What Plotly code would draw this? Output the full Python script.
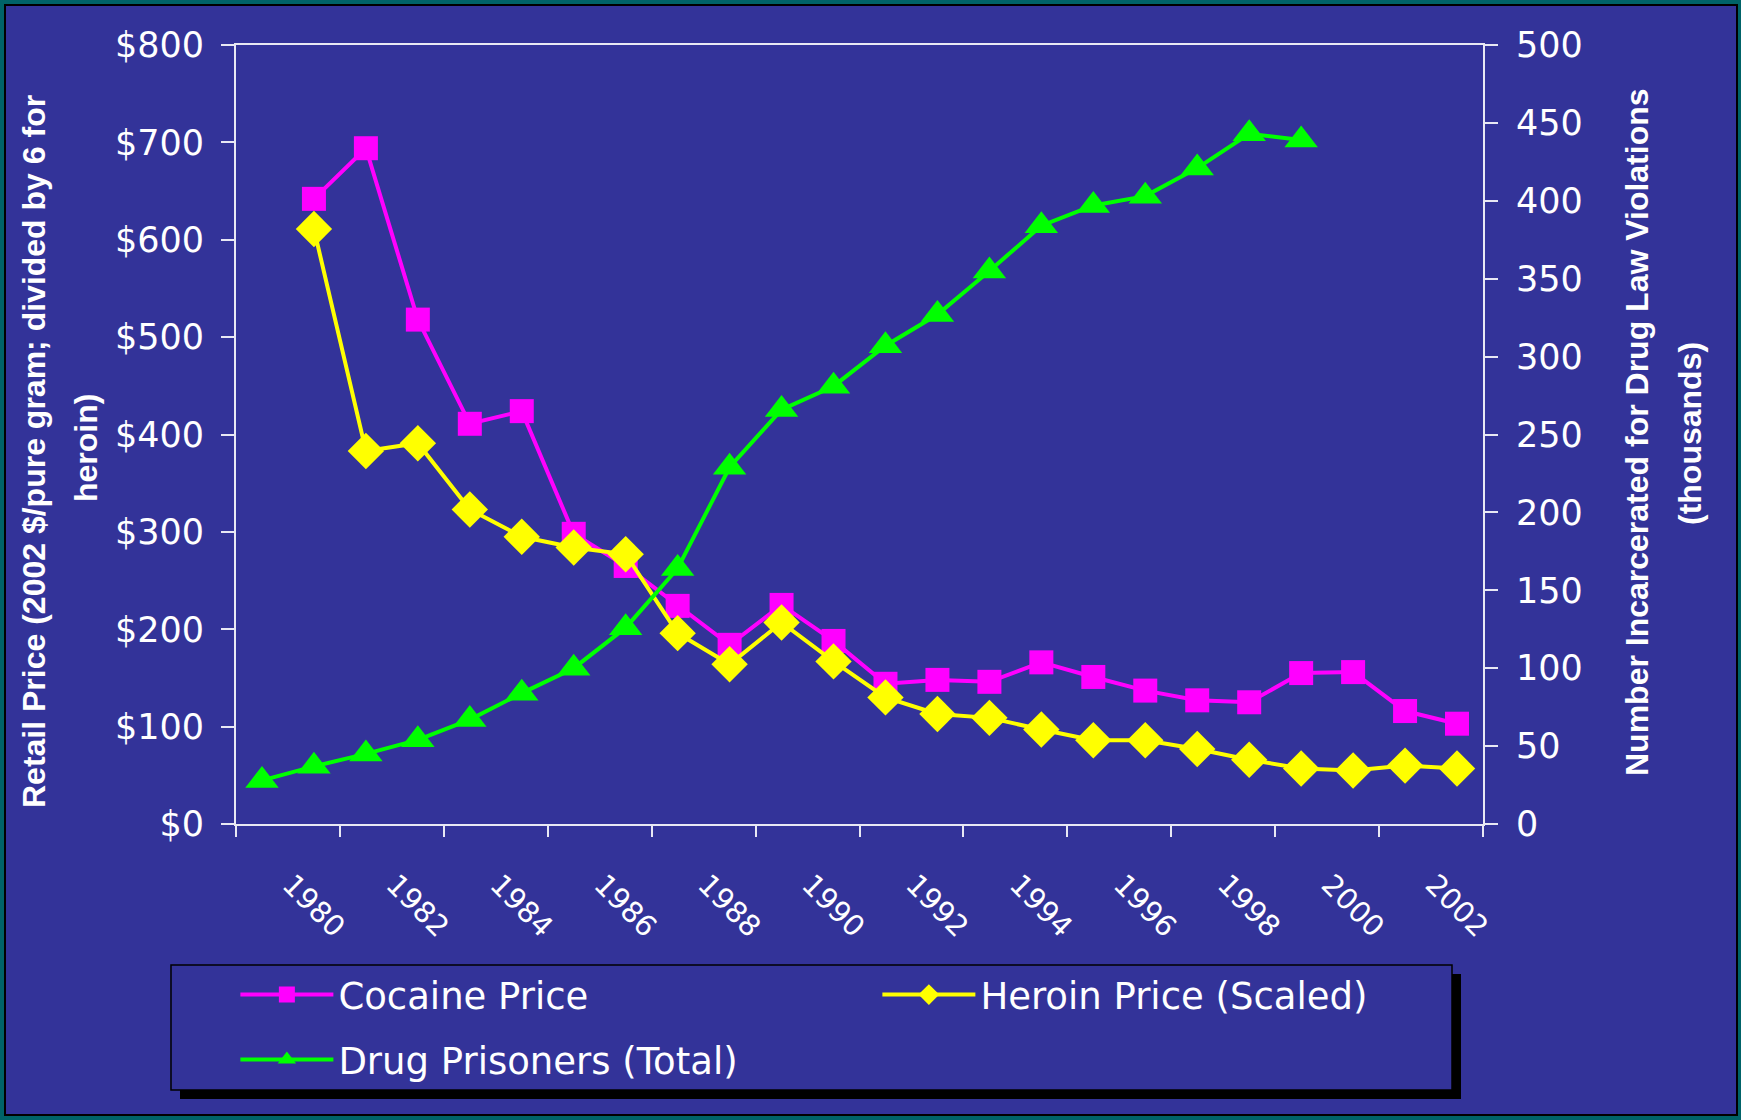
import plotly.graph_objects as go

# ---------------- data ----------------
cocaine_years = list(range(1980, 2003))
cocaine_price = [642, 694, 518, 411, 424, 298, 265, 224, 184, 225, 188, 144,
                 148, 146, 166, 151, 137, 127, 125, 155, 156, 116, 103]

heroin_years = list(range(1980, 2003))
heroin_price = [611, 383, 391, 323, 295, 284, 277, 196, 164, 207, 167, 130,
                113, 109, 97, 86, 86, 77, 66, 57, 55, 60, 57]

prisoner_years = list(range(1979, 2000))
drug_prisoners = [28, 37, 45, 54, 67, 84, 100, 126, 164, 229, 266, 281, 307,
                  327, 355, 384, 397, 403, 421, 443, 439]

label_years = list(range(1980, 2003, 2))
tick_labels = [str(y) for y in label_years]

# ---------------- style ----------------
BG = "#333399"
FRAME = "#006368"
AX = "#e8e8f4"
FONT = "Liberation Sans, Arial, sans-serif"
TFONT = "DejaVu Sans, Liberation Sans, sans-serif"

fig = go.Figure()
fig.add_trace(go.Scatter(
    x=cocaine_years, y=cocaine_price, name="Cocaine Price", mode="lines+markers",
    line=dict(color="#ff00ff", width=4),
    marker=dict(symbol="square", size=24, color="#ff00ff"), yaxis="y",
    legend="legend"))
fig.add_trace(go.Scatter(
    x=heroin_years, y=heroin_price, name="Heroin Price (Scaled)", mode="lines+markers",
    line=dict(color="#ffff00", width=4),
    marker=dict(symbol="diamond", size=28, color="#ffff00"), yaxis="y",
    legend="legend"))
fig.add_trace(go.Scatter(
    x=prisoner_years, y=drug_prisoners, name="Drug Prisoners (Total)", mode="lines+markers",
    line=dict(color="#00ff00", width=4),
    marker=dict(symbol="triangle-up", size=29, color="#00ff00"), yaxis="y2",
    legend="legend2"))

xrange = [1978.5, 2002.5]


def px_x(p):
    return (p - 236) / 1247


def px_y(p):
    return (824 - p) / 779


legend_common = dict(
    orientation="h", x=-0.0005, xanchor="left", yanchor="middle",
    bgcolor="rgba(0,0,0,0)", borderwidth=0,
    font=dict(size=37, color="white", family=TFONT),
    itemwidth=93, entrywidth=534, entrywidthmode="pixels", traceorder="normal",
)

fig.update_layout(
    width=1741, height=1120, autosize=False,
    margin=dict(l=236, r=258, t=45, b=296),
    paper_bgcolor=FRAME, plot_bgcolor="rgba(0,0,0,0)",
    font=dict(family=FONT, color="white"),
    showlegend=True,
    xaxis=dict(
        range=xrange, tickmode="array", tickvals=label_years, ticktext=tick_labels,
        ticks="", tickangle=45, tickfont=dict(size=29, color="white", family=TFONT),
        ticklabelshift=-23, ticklabelstandoff=30,
        showline=True, linecolor=AX, linewidth=2, mirror=True,
        showgrid=False, zeroline=False,
        minor=dict(ticks="outside", tick0=1978.5, dtick=2, ticklen=11,
                   tickwidth=2, tickcolor=AX, showgrid=False),
    ),
    xaxis2=dict(
        range=xrange, overlaying="x", anchor="y", side="bottom",
        showticklabels=False, ticks="", showline=False, showgrid=False, zeroline=False,
        minor=dict(ticks="inside", tick0=1978.5, dtick=2, ticklen=11,
                   tickwidth=2, tickcolor=AX, showgrid=False),
    ),
    yaxis=dict(
        range=[0, 800], tickmode="linear", tick0=0, dtick=100, tickprefix="$",
        ticks="outside", ticklen=13, tickwidth=2, tickcolor=AX,
        tickfont=dict(size=35, color="white", family=TFONT), ticklabelstandoff=10,
        showline=True, linecolor=AX, linewidth=2, showgrid=False, zeroline=False,
    ),
    yaxis2=dict(
        range=[0, 500], tickmode="linear", tick0=0, dtick=50,
        overlaying="y", side="right", anchor="x",
        ticks="outside", ticklen=13, tickwidth=2, tickcolor=AX,
        tickfont=dict(size=35, color="white", family=TFONT), ticklabelstandoff=11,
        showline=True, linecolor=AX, linewidth=2, showgrid=False, zeroline=False,
    ),
    yaxis3=dict(
        range=[0, 800], tickmode="linear", tick0=0, dtick=100,
        overlaying="y", side="left", anchor="x",
        ticks="inside", ticklen=13, tickwidth=2, tickcolor=AX,
        showticklabels=False, showline=False, showgrid=False, zeroline=False,
    ),
    yaxis4=dict(
        range=[0, 500], tickmode="linear", tick0=0, dtick=50,
        overlaying="y", side="right", anchor="x",
        ticks="inside", ticklen=13, tickwidth=2, tickcolor=AX,
        showticklabels=False, showline=False, showgrid=False, zeroline=False,
    ),
    legend=dict(legend_common, y=px_y(995)),
    legend2=dict(legend_common, y=px_y(1060)),
)

# frame, legend shadow and legend box (paper coordinates)
shapes = [
    dict(type="rect", xref="paper", yref="paper", layer="below",
         x0=px_x(5), x1=px_x(1737), y0=px_y(1115), y1=px_y(5),
         fillcolor=BG, line=dict(color="black", width=2)),
    dict(type="rect", xref="paper", yref="paper", layer="below",
         x0=px_x(180), x1=px_x(1461), y0=px_y(1099), y1=px_y(974),
         fillcolor="black", line=dict(width=0)),
    dict(type="rect", xref="paper", yref="paper", layer="below",
         x0=px_x(171), x1=px_x(1452), y0=px_y(1090), y1=px_y(965),
         fillcolor=BG, line=dict(color="black", width=1.5)),
]
fig.update_layout(shapes=shapes)

title_font = dict(family=FONT, size=32, color="white", weight="bold")
annotations = [
    dict(text="Retail Price (2002 $/pure gram; divided by 6 for", x=px_x(34), y=px_y(452),
         xref="paper", yref="paper", textangle=-90, showarrow=False,
         xanchor="center", yanchor="middle", font=title_font),
    dict(text="heroin)", x=px_x(86), y=px_y(448),
         xref="paper", yref="paper", textangle=-90, showarrow=False,
         xanchor="center", yanchor="middle", font=title_font),
    dict(text="Number Incarcerated for Drug Law Violations", x=px_x(1637), y=px_y(432),
         xref="paper", yref="paper", textangle=-90, showarrow=False,
         xanchor="center", yanchor="middle", font=title_font),
    dict(text="(thousands)", x=px_x(1690), y=px_y(434),
         xref="paper", yref="paper", textangle=-90, showarrow=False,
         xanchor="center", yanchor="middle", font=title_font),
]
fig.update_layout(annotations=annotations)

fig.write_html(
    "out.html",
    config={"displayModeBar": False},
    post_script="document.body.style.margin='0';document.body.style.background='%s';" % FRAME,
)
